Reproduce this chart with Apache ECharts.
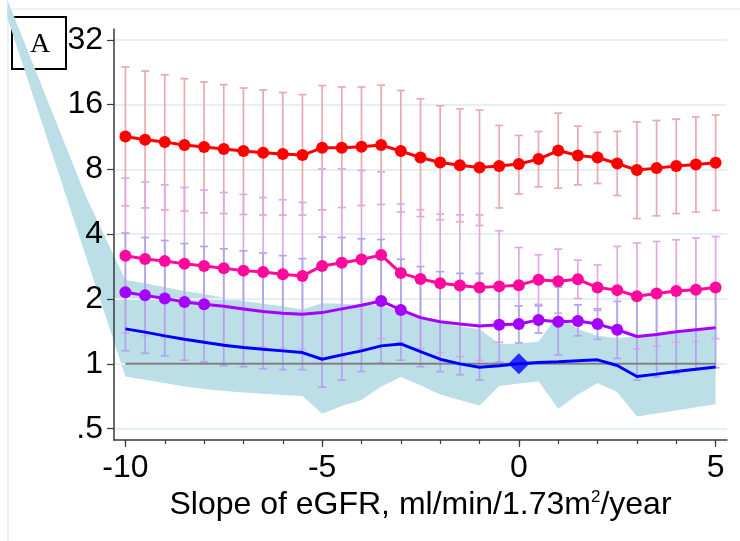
<!DOCTYPE html>
<html>
<head>
<meta charset="utf-8">
<script src="https://cdn.jsdelivr.net/npm/echarts@6/dist/echarts.min.js"></script>
<style>html,body{margin:0;padding:0;background:#fff}#c{width:740px;height:541px}</style>
</head>
<body>
<div id="c"></div>
<script>
// ---- data ----
const xs = [-10,-9.5,-9,-8.5,-8,-7.5,-7,-6.5,-6,-5.5,-5,-4.5,-4,-3.5,-3,-2.5,-2,-1.5,-1,-0.5,0,0.5,1,1.5,2,2.5,3,3.5,4,4.5,5];

const redEst = [11.38,10.98,10.71,10.38,10.16,9.94,9.73,9.55,9.42,9.32,10.08,10.08,10.19,10.38,9.73,9.09,8.61,8.37,8.16,8.29,8.47,8.93,9.79,9.28,9.09,8.52,7.94,8.11,8.29,8.43,8.59];
const redHi  = [23.9,22.9,22.0,21.1,20.4,19.8,19.1,18.7,18.2,17.8,19.6,19.3,19.3,19.7,18.6,17.0,15.8,15.3,15.1,12.8,11.5,12.0,14.6,12.7,11.9,12.0,13.3,13.5,13.7,14.0,14.3];
const redLo  = [5.42,5.30,5.19,5.12,5.03,4.99,4.94,4.92,4.91,4.91,5.19,5.32,5.44,5.50,5.07,4.83,4.67,4.57,4.39,5.30,6.16,6.64,6.55,6.78,6.88,6.05,4.73,4.87,4.99,5.07,5.16];

const magEst = [3.18,3.07,3.00,2.92,2.85,2.78,2.71,2.67,2.61,2.56,2.85,2.95,3.05,3.20,2.64,2.48,2.37,2.31,2.26,2.29,2.32,2.46,2.42,2.47,2.26,2.20,2.06,2.12,2.18,2.21,2.26];
const magHi  = [7.29,6.98,6.78,6.59,6.41,6.25,6.12,5.92,5.78,5.62,8.05,8.05,7.91,7.80,5.52,5.20,4.96,4.92,4.92,4.15,3.47,3.21,3.41,3.03,2.88,3.51,3.64,3.70,3.77,3.84,3.90];
const magLo  = [1.39,1.35,1.33,1.29,1.27,1.24,1.20,1.20,1.18,1.17,1.01,1.08,1.18,1.31,1.26,1.18,1.13,1.08,1.04,1.26,1.55,1.89,1.72,2.01,1.77,1.38,1.17,1.21,1.26,1.27,1.31];

const purEst = [2.15,2.08,2.01,1.94,1.89,1.85,1.80,1.75,1.72,1.70,1.73,1.80,1.87,1.96,1.78,1.64,1.57,1.53,1.50,1.52,1.53,1.60,1.57,1.58,1.53,1.44,1.34,1.37,1.41,1.44,1.47];
const purHi  = [4.05,3.86,3.74,3.62,3.51,3.42,3.35,3.27,3.18,3.08,3.88,3.86,3.81,3.78,3.06,2.83,2.68,2.63,2.63,2.26,1.86,1.86,2.27,1.88,1.80,1.95,2.13,2.16,2.21,2.19,2.25];
const purLo  = [1.15,1.12,1.09,1.04,1.02,0.98,0.97,0.95,0.94,0.94,0.78,0.84,0.92,1.01,1.04,0.97,0.92,0.89,0.84,1.02,1.25,1.39,1.10,1.35,1.30,1.06,0.84,0.87,0.90,0.95,0.96];
const purMarkedX = [-10,-9.5,-9,-8.5,-8,-3.5,-3,-0.5,0,0.5,1,1.5,2,2.5];

const blueEst = [1.454,1.404,1.349,1.302,1.261,1.221,1.191,1.170,1.149,1.128,1.051,1.101,1.149,1.212,1.238,1.141,1.051,1.000,0.965,0.979,1,1.014,1.022,1.033,1.044,0.982,0.873,0.896,0.921,0.945,0.968];
// confidence band; its first two points lie left of the plotted x range (drawn outside the plot, as in the original)
const bandX  = [-13,-11,-10,-9.5,-9,-8.5,-8,-7.5,-7,-6.5,-6,-5.5,-5,-4.5,-4,-3.5,-3,-2.5,-2,-1.5,-1,-0.5,0,0.5,1,1.5,2,2.5,3,3.5,4,4.5,5];
const bandHi = [49,5.97,2.45,2.37,2.27,2.18,2.11,2.03,1.96,1.90,1.85,1.79,1.91,1.90,1.88,1.87,1.76,1.66,1.555,1.49,1.45,1.24,1.24,1.27,1.69,1.45,1.35,1.32,1.34,1.365,1.395,1.42,1.44];
const bandLo = [40.5,3.14,0.873,0.843,0.814,0.785,0.765,0.749,0.736,0.726,0.716,0.710,0.586,0.638,0.68,0.786,0.870,0.795,0.72,0.68,0.641,0.79,0.81,0.83,0.618,0.72,0.815,0.74,0.569,0.588,0.608,0.629,0.650];

const refPoint = [0, 1];
const refLineX = [-10, 5];
const refLineY = 1;

const yTicks = [0.5, 1, 2, 4, 8, 16, 32];
const xMajor = [-10, -5, 0, 5];
const xMinor = [-10,-9,-8,-7,-6,-5,-4,-3,-2,-1,0,1,2,3,4,5];
const xTitle = 'Slope of eGFR, ml/min/1.73m';
const panelLabel = 'A';

// ---- chart ----
const FONT = "'Liberation Sans', Arial, Helvetica, sans-serif";
const FS = 32;
const chart = echarts.init(document.getElementById('c'), null, {renderer: 'canvas'});

function errSeries(lo, hi, color) {
  return {
    type: 'custom', silent: true, z: 3,
    data: xs.map((x, i) => [x, lo[i], hi[i]]),
    encode: {x: 0, y: [1, 2]},
    renderItem: function (params, api) {
      const x = api.value(0);
      const a = api.coord([x, api.value(1)]);
      const b = api.coord([x, api.value(2)]);
      const hw = 4;
      const st = {stroke: color, lineWidth: 1.7};
      return {type: 'group', children: [
        {type: 'line', shape: {x1: a[0], y1: a[1], x2: b[0], y2: b[1]}, style: st},
        {type: 'line', shape: {x1: a[0]-hw, y1: a[1], x2: a[0]+hw, y2: a[1]}, style: st},
        {type: 'line', shape: {x1: b[0]-hw, y1: b[1], x2: b[0]+hw, y2: b[1]}, style: st}
      ]};
    }
  };
}

const option = {
  animation: false,
  backgroundColor: '#ffffff',
  grid: {left: 114, right: 13, top: 29, bottom: 101, containLabel: false},
  xAxis: [
    {
      type: 'value', min: -10.29, max: 5.29, position: 'bottom', z: 2,
      axisLine: {show: true, onZero: false, lineStyle: {color: '#3a3a3a', width: 1.5}},
      axisTick: {show: true, customValues: xMinor, length: 4, lineStyle: {color: '#3a3a3a', width: 1.2}},
      axisLabel: {show: false},
      splitLine: {show: false}
    },
    {
      type: 'value', min: -10.29, max: 5.29, position: 'bottom', offset: 0, z: 2,
      axisLine: {show: false, onZero: false},
      axisTick: {show: true, customValues: xMajor, length: 7, lineStyle: {color: '#3a3a3a', width: 1.2}},
      axisLabel: {show: true, customValues: xMajor, fontSize: FS, fontFamily: FONT, color: '#000', margin: 12},
      splitLine: {show: false},
      name: '{t|' + xTitle + '}{s|2}{t|/year}',
      nameLocation: 'middle', nameGap: 46,
      nameTextStyle: {
        rich: {
          t: {fontSize: FS, fontFamily: FONT, color: '#000'},
          s: {fontSize: 17, fontFamily: FONT, color: '#000', verticalAlign: 'top'}
        }
      }
    }
  ],
  yAxis: {
    type: 'log', logBase: 2, min: 0.443, max: 35.9, z: 2,
    axisLine: {show: true, onZero: false, lineStyle: {color: '#3a3a3a', width: 1.5}},
    axisTick: {show: true, customValues: yTicks, length: 7, lineStyle: {color: '#3a3a3a', width: 1.2}},
    axisLabel: {
      show: true, customValues: yTicks, fontSize: FS, fontFamily: FONT, color: '#000', margin: 11,
      hideOverlap: false, showMinLabel: true, showMaxLabel: true,
      formatter: function (v) { return Math.abs(v - 0.5) < 1e-6 ? '.5' : String(Math.round(v)); }
    },
    splitLine: {show: true, lineStyle: {color: '#e6eff1', width: 2}}
  },
  graphic: [
    {type: 'rect', z: 0, silent: true, shape: {x: 8, y: 9, width: 800, height: 600},
     style: {fill: null, stroke: '#e4eef0', lineWidth: 1.5}},
    {type: 'group', z: 100, children: [
      {type: 'rect', shape: {x: 12, y: 17, width: 54, height: 52},
       style: {fill: '#fff', stroke: '#000', lineWidth: 2}},
      {type: 'text', x: 40, y: 45,
       style: {text: panelLabel, fontSize: 28, fontFamily: "'Liberation Serif', 'Times New Roman', serif",
               fill: '#000', align: 'center', verticalAlign: 'middle'}}
    ]}
  ],
  series: [
    {
      type: 'custom', silent: true, clip: false, z: 1,
      data: [[xs[0], blueEst[0]]],
      encode: {x: 0, y: 1},
      renderItem: function (params, api) {
        const pts = [];
        for (let i = 0; i < bandX.length; i++) pts.push(api.coord([bandX[i], bandHi[i]]));
        for (let i = bandX.length - 1; i >= 0; i--) pts.push(api.coord([bandX[i], bandLo[i]]));
        return {type: 'polygon', shape: {points: pts}, style: {fill: '#bcdee7', stroke: null}};
      }
    },
    errSeries(redLo, redHi, '#e8aaae'),
    errSeries(magLo, magHi, '#e2a8e6'),
    errSeries(purLo, purHi, '#aea6ec'),
    {
      type: 'line', z: 4, silent: true, symbol: 'none',
      data: refLineX.map(x => [x, refLineY]),
      lineStyle: {color: '#7f7f7f', width: 2}
    },
    {
      type: 'line', z: 5, silent: true, symbol: 'circle', symbolSize: 12,
      data: xs.map((x, i) => [x, redEst[i]]),
      itemStyle: {color: '#ff0000'}, lineStyle: {color: '#ff0000', width: 3}
    },
    {
      type: 'line', z: 5, silent: true, symbol: 'circle', symbolSize: 12,
      data: xs.map((x, i) => [x, magEst[i]]),
      itemStyle: {color: '#ff0a9c'}, lineStyle: {color: '#ff0a9c', width: 3}
    },
    {
      type: 'line', z: 5, silent: true, symbolSize: 12, showAllSymbol: true,
      data: xs.map((x, i) => ({value: [x, purEst[i]], symbol: purMarkedX.indexOf(x) >= 0 ? 'circle' : 'none'})),
      itemStyle: {color: '#a600ff'}, lineStyle: {color: '#a600ff', width: 3}
    },
    {
      type: 'line', z: 6, silent: true, symbol: 'none',
      data: xs.map((x, i) => [x, blueEst[i]]),
      lineStyle: {color: '#0000ff', width: 3}
    },
    {
      type: 'scatter', z: 7, silent: true, symbol: 'diamond', symbolSize: 21,
      data: [refPoint], itemStyle: {color: '#0000ff'}
    }
  ]
};
chart.setOption(option);
</script>
</body>
</html>
